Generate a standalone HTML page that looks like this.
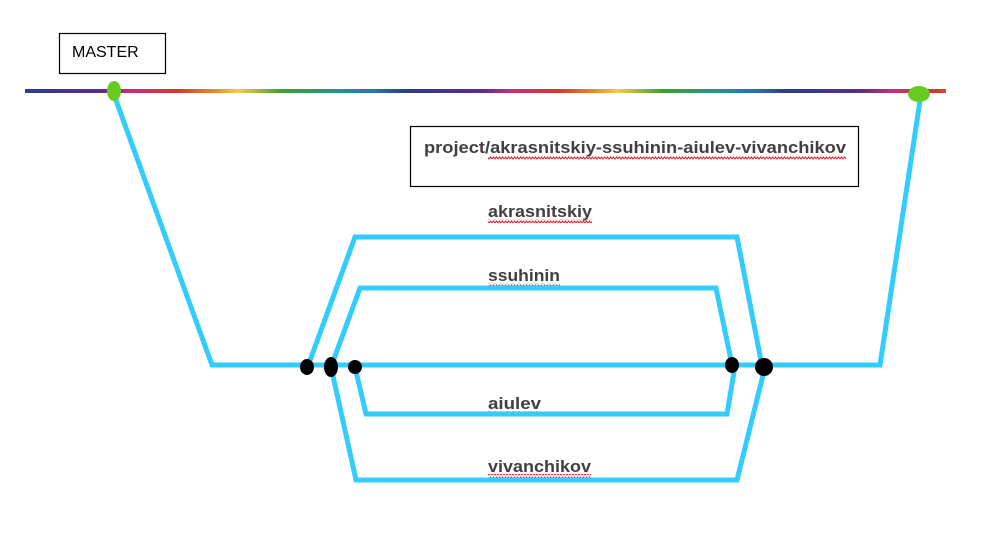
<!DOCTYPE html>
<html><head><style>
body{margin:0;background:#fff;}
svg{display:block}
text{font-family:"Liberation Sans",sans-serif;}
</style></head><body>
<svg width="989" height="533" viewBox="0 0 989 533">
<defs>
<linearGradient id="rb" gradientUnits="userSpaceOnUse" x1="25" y1="0" x2="405" y2="0" spreadMethod="repeat">
<stop offset="0" stop-color="#2a3f8a"/>
<stop offset="0.2" stop-color="#5a2d88"/>
<stop offset="0.28" stop-color="#d02a7a"/>
<stop offset="0.4" stop-color="#d8352a"/>
<stop offset="0.5" stop-color="#f08a20"/>
<stop offset="0.56" stop-color="#f0cf40"/>
<stop offset="0.68" stop-color="#3aa030"/>
<stop offset="0.82" stop-color="#1a9a8a"/>
<stop offset="0.92" stop-color="#2a70c0"/>
<stop offset="1" stop-color="#2a3f8a"/>
</linearGradient>
<pattern id="wv" width="6" height="4" patternUnits="userSpaceOnUse">
<path d="M0 3 L1.5 1 L3 3 L4.5 1 L6 3" stroke="#e02020" stroke-width="1" fill="none"/>
</pattern>
</defs>
<rect x="59.5" y="33.5" width="106" height="40" fill="#fff" stroke="#000" stroke-width="1.2"/>
<text x="72" y="57" font-size="16" fill="#000">MASTER</text>
<line x1="25" y1="91" x2="946" y2="91" stroke="url(#rb)" stroke-width="4"/>
<rect x="410.5" y="126.5" width="448" height="60" fill="#fff" stroke="#000" stroke-width="1.2"/>
<g font-size="17" font-weight="bold" fill="#404040">
<text x="424" y="153" textLength="422" lengthAdjust="spacingAndGlyphs">project/akrasnitskiy-ssuhinin-aiulev-vivanchikov</text>
<text x="488" y="217" textLength="104" lengthAdjust="spacingAndGlyphs">akrasnitskiy</text>
<text x="488" y="281" textLength="72" lengthAdjust="spacingAndGlyphs">ssuhinin</text>
<text x="488" y="409" textLength="53" lengthAdjust="spacingAndGlyphs">aiulev</text>
<text x="488" y="472" textLength="103" lengthAdjust="spacingAndGlyphs">vivanchikov</text>
</g>
<rect x="488" y="156" width="358" height="4" fill="url(#wv)"/>
<rect x="488" y="219" width="104" height="4" fill="url(#wv)"/>
<rect x="488" y="283" width="72" height="4" fill="url(#wv)"/>
<rect x="488" y="411" width="52" height="4" fill="url(#wv)"/>
<rect x="488" y="474" width="103" height="4" fill="url(#wv)"/>
<g stroke="#33ccff" stroke-width="5" fill="none" stroke-linejoin="miter">
<polyline points="113,92 212,365 880,365 921,94"/>
<polyline points="308,366 355,237 737,237 762,366"/>
<polyline points="331,367 360,288 716,288 732,365"/>
<polyline points="355,367 366,414 727,414 735,366"/>
<polyline points="331,367 356,480 737,480 765,367"/>
</g>
<g fill="#000">
<ellipse cx="307" cy="367" rx="7" ry="8"/>
<ellipse cx="331" cy="367" rx="7" ry="10"/>
<ellipse cx="355" cy="367" rx="7" ry="7"/>
<ellipse cx="732" cy="365" rx="7" ry="8"/>
<ellipse cx="764" cy="367" rx="9" ry="9"/>
</g>
<g fill="#66cc22">
<ellipse cx="114" cy="91" rx="7" ry="10"/>
<ellipse cx="919" cy="94" rx="11" ry="8"/>
</g>
</svg>
</body></html>
